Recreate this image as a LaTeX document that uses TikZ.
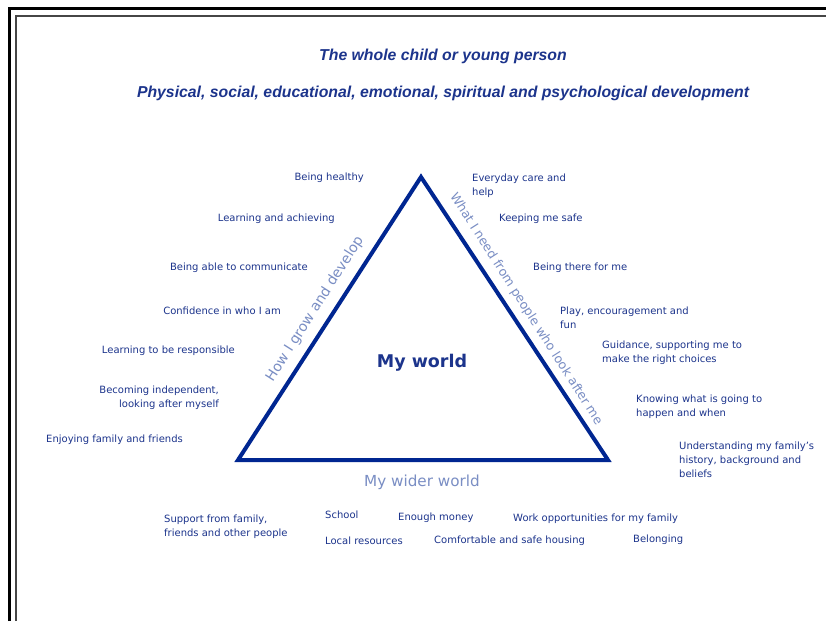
\documentclass[tikz,border=0pt]{standalone}
\usepackage{fontspec}
\setmainfont{DejaVu Sans}
\newfontfamily\titlefont{Liberation Sans}
\usetikzlibrary{calc}
\definecolor{ink}{RGB}{28,52,140}
\definecolor{edge}{RGB}{0,38,145}
\definecolor{soft}{RGB}{122,142,196}
\definecolor{frameinner}{RGB}{70,70,70}
\begin{document}
\begin{tikzpicture}[x=1pt,y=-1pt,
  lbl/.style={inner sep=0pt,text=ink,font=\fontsize{10}{14}\selectfont},
  lblL/.style={lbl,anchor=east,align=right},
  lblR/.style={lbl,anchor=west,align=left},
  heading/.style={inner sep=0pt,text=ink,font=\titlefont\bfseries\itshape\fontsize{15.8}{18}\selectfont},
  sidetext/.style={inner sep=0pt,text=soft,font=\fontsize{14}{16}\selectfont},
  tri/.style={draw=edge,line width=4pt,line join=miter}]
\useasboundingbox (0,0) rectangle (826,621);
\fill[white] (0,0) rectangle (826,621);
% page frame
\draw[black,line width=2.5pt] (9.5,621) -- (9.5,8.5) -- (826,8.5);
\draw[frameinner,line width=1.2pt] (16,621) -- (16,16) -- (826,16);

% headings
\node[heading] (t1) at (443,56) {The whole child or young person};
\node[heading] (t2) at (443,93) {Physical, social, educational, emotional, spiritual and psychological development};

% triangle
\coordinate (apex) at (421,177);
\coordinate (bl) at (238,460);
\coordinate (br) at (608,460);
\draw[tri] (apex) -- (br) -- (bl) -- cycle;

\node[inner sep=0pt,text=ink,font=\bfseries\fontsize{17.5}{20}\selectfont] (world) at (422,363) {My world};
\node[sidetext,rotate=57.5] (grow) at (315,309) {How I grow and develop};
\node[sidetext,rotate=-57.5,font=\fontsize{12.5}{15}\selectfont] (need) at (526,309) {What I need from people who look after me};
\node[sidetext,font=\fontsize{15.2}{17}\selectfont] (wider) at (422,482) {My wider world};

% how I grow and develop
\node[lblL] (l1) at (364,178) {Being healthy};
\node[lblL] (l2) at (335,219) {Learning and achieving};
\node[lblL] (l3) at (308,268) {Being able to communicate};
\node[lblL] (l4) at (281,311) {Confidence in who I am};
\node[lblL] (l5) at (235,351) {Learning to be responsible};
\node[lblL] (l6) at (219,398) {Becoming independent,\\looking after myself};
\node[lblL] (l7) at (183,440) {Enjoying family and friends};

% what I need from people who look after me
\node[lblR] (r1) at (472,186) {Everyday care and\\help};
\node[lblR] (r2) at (499,219) {Keeping me safe};
\node[lblR] (r3) at (533,268) {Being there for me};
\node[lblR] (r4) at (560,318) {Play, encouragement and\\fun};
\node[lblR] (r5) at (602,353) {Guidance, supporting me to\\make the right choices};
\node[lblR] (r6) at (636,407) {Knowing what is going to\\happen and when};
\node[lblR] (r7) at (679,460) {Understanding my family's\\history, background and\\beliefs};

% my wider world
\node[lblR] (b1) at (164,527) {Support from family,\\friends and other people};
\node[lblR] (b2) at (325,515) {School};
\node[lblR] (b3) at (398,518) {Enough money};
\node[lblR] (b4) at (513,519) {Work opportunities for my family};
\node[lblR] (b5) at (325,541) {Local resources};
\node[lblR] (b6) at (434,541) {Comfortable and safe housing};
\node[lblR] (b7) at (633,540) {Belonging};
\end{tikzpicture}
\end{document}
